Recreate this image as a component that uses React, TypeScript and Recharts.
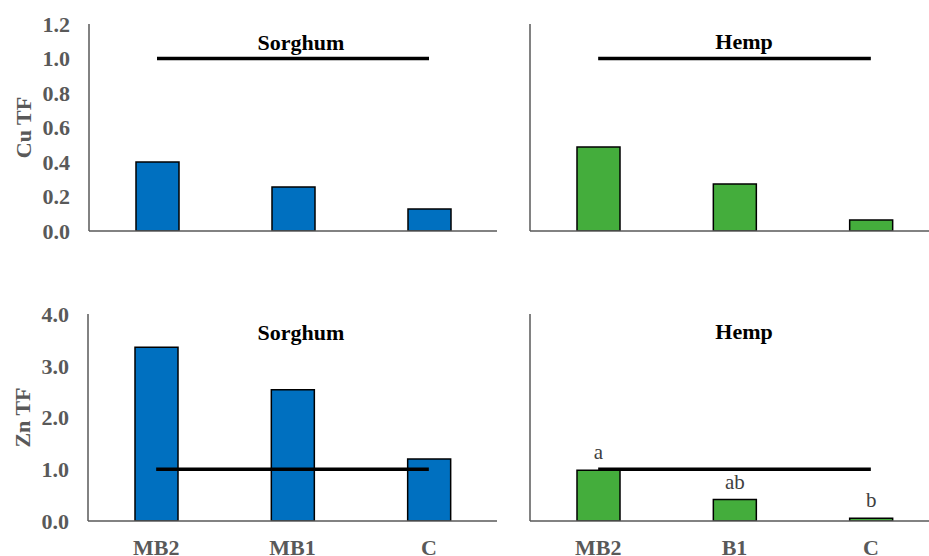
import React from 'react';
import {
  ComposedChart,
  Bar,
  Line,
  XAxis,
  YAxis,
  LabelList,
  Label,
} from 'recharts';

// treatments
const sorghumCategories = ['MB2', 'MB1', 'C'];
const hempCategories = ['MB2', 'B1', 'C'];

// translocation factors
const cuSorghum = [0.4, 0.255, 0.128];
const cuHemp = [0.487, 0.272, 0.064];
const znSorghum = [3.356, 2.535, 1.2];
const znHemp = [0.98, 0.414, 0.052];
const hempZnLetters = ['a', 'ab', 'b'];

const thresholdValue = 1.0;

const cuTicks = [0, 0.2, 0.4, 0.6, 0.8, 1.0, 1.2];
const znTicks = [0, 1, 2, 3, 4];

const SERIF = '"Liberation Serif", "DejaVu Serif", "Times New Roman", Times, serif';
const BLUE = '#0070C0';
const GREEN = '#44AD3C';
const AXIS = '#595959';

const buildRows = (cats: string[], vals: number[], letters?: string[]) =>
  cats.map((c, i) => ({
    name: c,
    value: vals[i],
    threshold: thresholdValue,
    letter: letters ? letters[i] : '',
  }));

interface PanelProps {
  rows: { name: string; value: number; threshold: number; letter: string }[];
  color: string;
  domain: [number, number];
  ticks: number[];
  showYTicks: boolean;
  showXTicks: boolean;
  yLabel?: string;
  width: number;
  height: number;
  marginLeft: number;
  marginRight: number;
  xHeight: number;
  withLetters?: boolean;
}

const Panel: React.FC<PanelProps> = ({
  rows,
  color,
  domain,
  ticks,
  showYTicks,
  showXTicks,
  yLabel,
  width,
  height,
  marginLeft,
  marginRight,
  xHeight,
  withLetters,
}) => (
  <ComposedChart
    width={width}
    height={height}
    data={rows}
    margin={{ top: 24, right: marginRight, left: marginLeft, bottom: 0 }}
    style={{ fontFamily: SERIF }}
  >
    <XAxis
      dataKey="name"
      height={xHeight}
      axisLine={{ stroke: AXIS, strokeWidth: 1.5 }}
      tickLine={false}
      tickSize={0}
      tickMargin={18}
      interval={0}
      tick={
        showXTicks
          ? { fill: AXIS, fontSize: 22, fontWeight: 700, fontFamily: SERIF }
          : false
      }
    />
    <YAxis
      width={60}
      domain={domain}
      ticks={ticks}
      interval={0}
      allowDataOverflow
      axisLine={{ stroke: AXIS, strokeWidth: 1.5 }}
      tickLine={false}
      tickSize={0}
      tickMargin={19}
      tickFormatter={(v: number) => v.toFixed(1)}
      tick={
        showYTicks
          ? { fill: AXIS, fontSize: 22, fontWeight: 700, fontFamily: SERIF }
          : false
      }
    >
      {yLabel && (
        <Label
          value={yLabel}
          angle={-90}
          position="center"
          dx={-36}
          style={{ fill: AXIS, fontSize: 22, fontWeight: 700, fontFamily: SERIF }}
        />
      )}
    </YAxis>
    <Bar
      dataKey="value"
      fill={color}
      stroke="#000"
      strokeWidth={1.5}
      barSize={43}
      isAnimationActive={false}
    >
      {withLetters && (
        <LabelList
          dataKey="letter"
          position="top"
          offset={11}
          style={{ fill: '#404040', fontSize: 21, fontFamily: SERIF }}
        />
      )}
    </Bar>
    <Line
      dataKey="threshold"
      stroke="#000"
      strokeWidth={3.5}
      dot={false}
      activeDot={false}
      isAnimationActive={false}
    />
  </ComposedChart>
);

const titleStyle = (cx: number, top: number): React.CSSProperties => ({
  position: 'absolute',
  left: cx - 100,
  top,
  width: 200,
  textAlign: 'center',
  fontFamily: SERIF,
  fontWeight: 700,
  fontSize: 22,
  lineHeight: '22px',
  color: '#000',
});

const App: React.FC = () => {
  return (
    <div
      style={{
        position: 'absolute',
        left: 0,
        top: 0,
        width: 929,
        height: 556,
        overflow: 'hidden',
        background: '#fff',
        fontFamily: SERIF,
      }}
    >
      <div style={{ position: 'absolute', left: 0, top: 0 }}>
        <Panel
          rows={buildRows(sorghumCategories, cuSorghum)}
          color={BLUE}
          domain={[0, 1.2]}
          ticks={cuTicks}
          showYTicks
          showXTicks={false}
          yLabel="Cu TF"
          width={510}
          height={260}
          marginLeft={29}
          marginRight={13}
          xHeight={29}
        />
      </div>
      <div style={{ position: 'absolute', left: 470, top: 0 }}>
        <Panel
          rows={buildRows(hempCategories, cuHemp)}
          color={GREEN}
          domain={[0, 1.2]}
          ticks={cuTicks}
          showYTicks={false}
          showXTicks={false}
          width={480}
          height={260}
          marginLeft={0}
          marginRight={11}
          xHeight={29}
        />
      </div>
      <div style={{ position: 'absolute', left: 0, top: 290 }}>
        <Panel
          rows={buildRows(sorghumCategories, znSorghum)}
          color={BLUE}
          domain={[0, 4]}
          ticks={znTicks}
          showYTicks
          showXTicks
          yLabel="Zn TF"
          width={510}
          height={266}
          marginLeft={28}
          marginRight={13}
          xHeight={35}
        />
      </div>
      <div style={{ position: 'absolute', left: 470, top: 290 }}>
        <Panel
          rows={buildRows(hempCategories, znHemp, hempZnLetters)}
          color={GREEN}
          domain={[0, 4]}
          ticks={znTicks}
          showYTicks={false}
          showXTicks
          width={480}
          height={266}
          marginLeft={0}
          marginRight={11}
          xHeight={35}
          withLetters
        />
      </div>
      <div style={titleStyle(301, 32)}>Sorghum</div>
      <div style={titleStyle(744, 31)}>Hemp</div>
      <div style={titleStyle(301, 322)}>Sorghum</div>
      <div style={titleStyle(744, 321)}>Hemp</div>
    </div>
  );
};

export default App;
